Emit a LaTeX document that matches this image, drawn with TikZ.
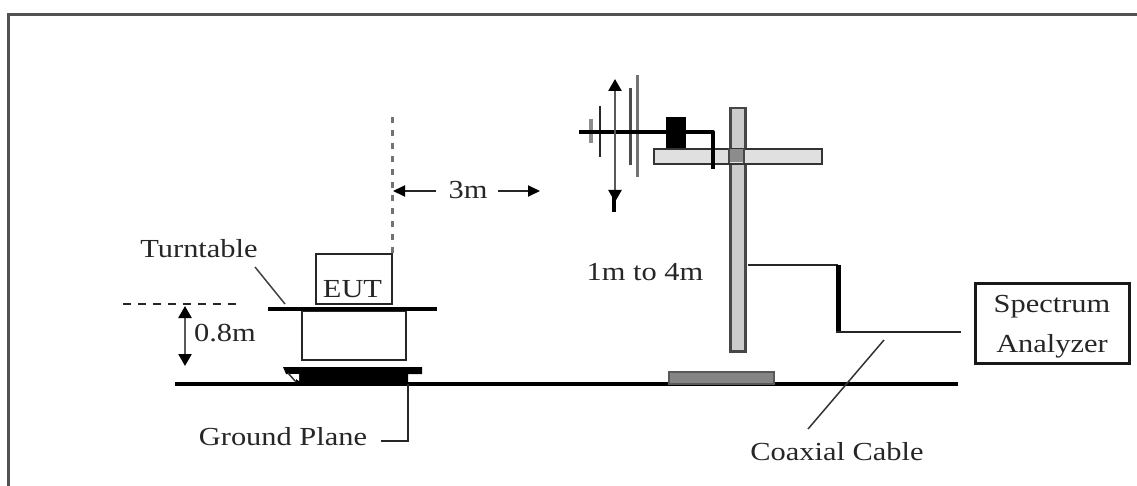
\documentclass[tikz,border=0pt]{standalone}
\usepackage{fontspec}
\setmainfont[FakeStretch=1.17]{Liberation Serif}
\usetikzlibrary{arrows.meta}
\tikzset{
 lbl/.style={inner sep=0pt,font=\fontsize{26}{30}\selectfont,text=black!85},
 thinline/.style={line width=2pt,black!85},
 thickline/.style={line width=4.5pt,black},
 dimarrow/.style={line width=2.5pt,black!65,{Triangle[length=12pt,width=13pt,black]}-{Triangle[length=12pt,width=13pt,black]}},
 oneway/.style={line width=2pt,black!85,-{Triangle[length=12pt,width=11pt,black]}},
 boxline/.style={draw=black!85,line width=2pt,fill=white}
}
\begin{document}
\begin{tikzpicture}[x=1pt,y=-1pt]
\useasboundingbox (0,0) rectangle (1137,486);
\fill[white] (0,0) rectangle (1137,486);
% frame
\draw[line width=3pt,black!68] (8,486) -- (8,14.5) -- (1137,14.5);
% ground
\coordinate (g1) at (175,383.5); \coordinate (g2) at (958,383.5);
\draw[line width=4pt,black] (g1) -- (g2);
\draw[line width=2pt,black] (445,385) -- (495,385);
% plate under mast
\node[draw=black!65,line width=2pt,fill=black!48,minimum width=105pt,minimum height=12pt,inner sep=0pt,anchor=north west] (plate) at (667.5,370.5) {};
% mast
\node[draw=black!72,line width=2.5pt,fill=black!20,minimum width=15pt,minimum height=243pt,inner sep=0pt,anchor=north west] (mast) at (729,107) {};
% tray
\node[draw=black!80,line width=2pt,fill=black!12,minimum width=168pt,minimum height=15pt,inner sep=0pt,anchor=north west] (tray) at (652.5,148.5) {};
\fill[black!45] (729,149.5) rectangle (744,162.5);
\draw[line width=2pt,black!72] (729,148.5) -- (729,163.5) (744,148.5) -- (744,163.5);
% antenna
\draw[line width=3.5pt,black!45] (591,119) -- (591,143);
\draw[line width=2.5pt,black!85] (600,106) -- (600,157);
\draw[line width=3pt,black!70] (630,88) -- (630,165);
\draw[line width=3pt,black!55] (637,75) -- (637,177);
\coordinate (boomL) at (579,132);
\node[fill=black,minimum width=20pt,minimum height=31pt,inner sep=0pt,anchor=north west] (feed) at (666,117) {};
\draw[line width=4pt,black,line join=round] (boomL) -- (713,132) -- (713,169);
\coordinate (armT) at (615,79); \coordinate (armB) at (615,202);
\draw[dimarrow] (armT) -- (armB);
\draw[line width=4pt,black] (614,196) -- (614,212);
% turntable
\node[boxline,minimum width=104pt,minimum height=49pt,inner sep=0pt,anchor=north west] (stand) at (300.5,310) {};
\draw[thickline] (268,309) -- (437,309);
\node[boxline,minimum width=76pt,minimum height=50pt,inner sep=0pt,anchor=north west] (eut) at (315,253) {};
\node[lbl,anchor=center] (eutl) at (352.5,289) {EUT};
\fill[black] (283,367) -- (422,367) -- (422,374) -- (408,374) -- (408,384) -- (296,384) -- (296,374) -- (286,374) -- cycle;
\fill[white] (289,374) -- (299,374) -- (299,381) -- cycle;
\draw[line width=1.5pt,black!80] (288,373) -- (296,382);
% dashed
\draw[line width=3pt,black!55,dash pattern=on 6pt off 7pt] (392,253) -- (392,112);
\coordinate (h1) at (123,304); \coordinate (h2) at (240,304);
\draw[line width=1.5pt,black!85,dash pattern=on 8pt off 7pt] (h1) -- (h2);
\coordinate (a1) at (185,306); \coordinate (a2) at (185,366);
\draw[dimarrow] (a1) -- (a2);
\node[lbl,anchor=center] (zero) at (225,333) {0.8m};
% 3 m
\node[lbl,anchor=center] (three) at (468,190) {3m};
\coordinate (t1) at (393,191); \coordinate (t2) at (540,191);
\draw[oneway] (436,191) -- (t1);
\draw[oneway] (498,191) -- (t2);
% labels
\node[lbl] (turn) at (199,249) {Turntable};
\coordinate (tl1) at (255,267); \coordinate (tl2) at (285,304);
\draw[line width=1.5pt,black!75] (tl1) -- (tl2);
\node[lbl] (gp) at (283,437) {Ground Plane};
\coordinate (gl1) at (408,384); \coordinate (gl2) at (408,441); \coordinate (gl3) at (381,441);
\draw[thinline] (gl1) -- (gl2) -- (gl3);
\node[lbl] (mt) at (645,272) {1m to 4m};
% cable
\coordinate (c1) at (748,265); \coordinate (c2) at (838,265); \coordinate (c3) at (838,332); \coordinate (c4) at (961,332);
\draw[line width=2.5pt,black!85] (c1) -- (c2);
\draw[line width=5pt,black] (c2) -- (c3);
\draw[line width=2pt,black!85] (836,332) -- (c4);
% analyzer
\node[draw=black!90,line width=3pt,minimum width=154pt,minimum height=80pt,inner sep=0pt,anchor=north west] (sa) at (974,281.5) {};
\node[lbl] (s1) at (1052,307) {Spectrum};
\node[lbl] (s2) at (1052,346) {Analyzer};
% coax leader
\coordinate (x1) at (884,340); \coordinate (x2) at (808,429);
\draw[line width=1.5pt,black!80] (x1) -- (x2);
\node[lbl] (cc) at (837,452) {Coaxial Cable};
\end{tikzpicture}
\end{document}
